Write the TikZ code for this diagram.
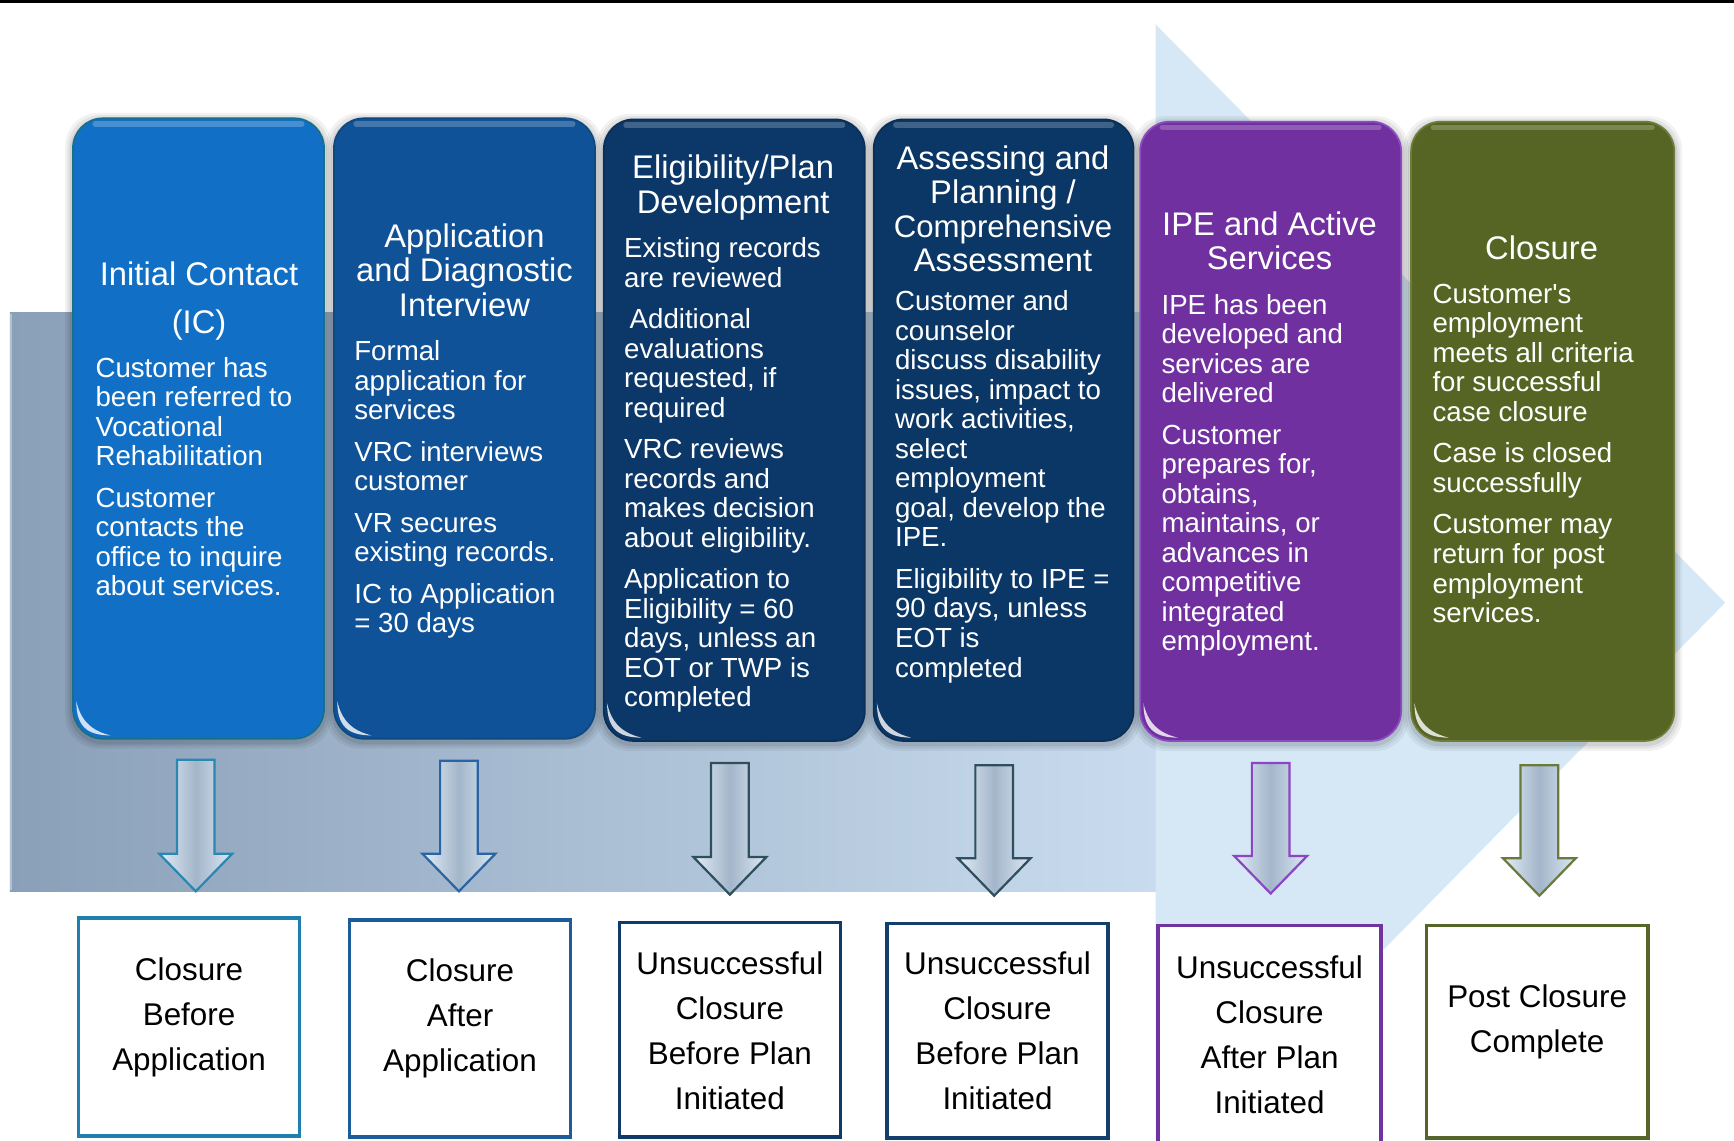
\documentclass[tikz,border=0pt]{standalone}
\usepackage{fontspec}
\setmainfont{Liberation Sans}[Ligatures=TeXOff]
\usetikzlibrary{fit,calc}
\definecolor{bgL}{HTML}{8AA0B8}
\definecolor{bgR}{HTML}{C9DCEF}
\definecolor{bgH}{HTML}{D6E8F6}
\definecolor{fA}{HTML}{1170C6}\definecolor{eA}{HTML}{17708A}
\definecolor{fB}{HTML}{0F5298}\definecolor{eB}{HTML}{0E4A80}
\definecolor{fC}{HTML}{0B3868}\definecolor{eC}{HTML}{0A3058}
\definecolor{fD}{HTML}{0B3766}\definecolor{eD}{HTML}{0A3058}
\definecolor{fE}{HTML}{7030A0}\definecolor{eE}{HTML}{8A4CC0}
\definecolor{fF}{HTML}{566523}\definecolor{eF}{HTML}{6E7E3A}
\definecolor{aA}{HTML}{2C86B2}\definecolor{aB}{HTML}{2A64A4}
\definecolor{aC}{HTML}{2F4F5F}\definecolor{aD}{HTML}{2F4F5F}
\definecolor{aE}{HTML}{8A46C4}\definecolor{aF}{HTML}{6A7A3A}
\definecolor{oA}{HTML}{1F7FAF}\definecolor{oB}{HTML}{1C5C9A}
\definecolor{oC}{HTML}{0F3B6A}\definecolor{oD}{HTML}{123F6D}
\definecolor{oE}{HTML}{7033A0}\definecolor{oF}{HTML}{56652A}
\definecolor{arL}{HTML}{E2ECF6}
\definecolor{arM}{HTML}{A3B6CA}
\definecolor{arR}{HTML}{DCE8F4}
\tikzset{
  topbox/.style={rounded corners=13.5pt, inner sep=0pt, line width=0.8pt},
  botbox/.style={inner sep=0pt, fill=white, line width=1.6pt},
  ttl/.style={text=white, font=\fontsize{14.8}{15.5}\selectfont, align=center, inner sep=0pt, anchor=north},
  bdy/.style={text=white, font=\fontsize{12.5}{13.35}\selectfont, align=left, inner sep=0pt, anchor=north west},
  otxt/.style={text=black, font=\fontsize{14.2}{20.35}\selectfont, align=center, inner sep=0pt, anchor=north},
  blk/.style={line width=1pt, left color=arL, right color=arR, middle color=arM}
}
% #1 name, #2 x1, #3 y1, #4 x2, #5 y2, #6 fill, #7 edge
\newcommand{\mytopbox}[7]{%
  \foreach \s/\o in {7/0.05,5/0.06,3/0.08}{%
    \fill[black, opacity=\o, rounded corners=15pt] (#2-\s,#3-\s+2) rectangle (#4+\s,#5+\s+2);}
  \node[topbox, fill=#6, draw=#7, fit={(#2,#3) (#4,#5)}] (#1) {};
  \draw[white, opacity=0.22, line width=2.4pt, line cap=round] (#2+20,#3+5) -- (#4-20,#3+5);
  \fill[white, opacity=0.8] (#2+3,#5-34) .. controls (#2+3,#5-12) and (#2+12,#5-3) .. (#2+34,#5-3)
      .. controls (#2+17,#5-7) and (#2+7,#5-16) .. cycle;
}
% #1 cx, #2 top, #3 tip, #4 colour
\newcommand{\blockarrow}[4]{%
  \path[blk, draw=#4] (#1-17,#2) -- (#1+17,#2) -- (#1+17,#3-34) -- (#1+33,#3-34) -- (#1,#3) -- (#1-33,#3-34) -- (#1-17,#3-34) -- cycle;
}
\begin{document}
\begin{tikzpicture}[x=0.5pt,y=-0.5pt]
\useasboundingbox (0,0) rectangle (1568,1031);
\clip (0,0) rectangle (1568,1031);
\fill[white] (0,0) rectangle (1568,1031);
\fill[black] (0,0) rectangle (1568,2.5);
% background arrow
\shade[left color=bgL, right color=bgR] (9,283) rectangle (1045,806);
\fill[bgH] (1045,22) -- (1560,545) -- (1045,1068) -- cycle;
\draw[white, opacity=0.35, line width=1pt] (10,284) -- (10,805);
% top boxes
\mytopbox{b1}{66}{107}{293}{668}{fA}{eA}
\mytopbox{b2}{302}{107}{538}{668}{fB}{eB}
\mytopbox{b3}{546}{108}{782}{670}{fC}{eC}
\mytopbox{b4}{790}{108}{1025}{670}{fD}{eD}
\mytopbox{b5}{1031}{110}{1267}{670}{fE}{eE}
\mytopbox{b6}{1276}{110}{1514}{670}{fF}{eF}
% titles
\node[ttl] (h1) at (180,236) {Initial Contact\\[6.5pt](IC)};
\node[ttl] (h2) at (420,202) {Application\\and Diagnostic\\Interview};
\node[ttl] (h3) at (663,140) {Eligibility/Plan\\Development};
\node[ttl] (h4) at (907,131) {Assessing and\\Planning /\\{\fontsize{14.1}{15.5}\selectfont Comprehensive}\\Assessment};
\node[ttl] (h5) at (1148,191) {IPE and Active\\Services};
\node[ttl] (h6) at (1394,213) {Closure};
% bodies
\node[bdy] (d1) at (86,322.5) {Customer has\\been referred to\\Vocational\\Rehabilitation\\[5.4pt]Customer\\contacts the\\office to inquire\\about services.};
\node[bdy] (d2) at (320,307.5) {Formal\\application for\\services\\[5.4pt]VRC interviews\\customer\\[5.4pt]VR secures\\existing records.\\[5.4pt]IC to Application\\= 30 days};
\node[bdy] (d3) at (564,214.5) {Existing records\\are reviewed\\[5.4pt]\hspace{2.5pt}Additional\\evaluations\\requested, if\\required\\[5.4pt]VRC reviews\\records and\\makes decision\\about eligibility.\\[5.4pt]Application to\\Eligibility = 60\\days, unless an\\EOT or TWP is\\completed};
\node[bdy] (d4) at (809,262.5) {Customer and\\counselor\\discuss disability\\issues, impact to\\work activities,\\select\\employment\\goal, develop the\\IPE.\\[5.4pt]Eligibility to IPE =\\90 days, unless\\EOT is\\completed};
\node[bdy] (d5) at (1050,265.5) {IPE has been\\developed and\\services are\\delivered\\[5.4pt]Customer\\prepares for,\\obtains,\\maintains, or\\advances in\\competitive\\integrated\\employment.};
\node[bdy] (d6) at (1295,256.5) {Customer's\\employment\\meets all criteria\\for successful\\case closure\\[5.4pt]Case is closed\\successfully\\[5.4pt]Customer may\\return for post\\employment\\services.};
% block arrows
\blockarrow{177}{687}{806}{aA}
\blockarrow{415}{688}{806}{aB}
\blockarrow{660}{690}{809}{aC}
\blockarrow{899}{692}{810}{aD}
\blockarrow{1149}{690}{808}{aE}
\blockarrow{1392}{692}{810}{aF}
% outcome boxes
\node[botbox, draw=oA, fit={(71,830) (271,1027)}] (o1) {};
\node[botbox, draw=oB, fit={(316,832) (516,1028)}] (o2) {};
\node[botbox, draw=oC, fit={(560,834) (760,1028)}] (o3) {};
\node[botbox, draw=oD, fit={(802,835) (1002,1029)}] (o4) {};
\node[botbox, draw=oE, fit={(1047,837) (1249,1045)}] (o5) {};
\node[botbox, draw=oF, fit={(1290,837) (1490,1029)}] (o6) {};
\node[otxt] (t1) at (171,865.5) {Closure\\Before\\Application};
\node[otxt] (t2) at (416,866.5) {Closure\\After\\Application};
\node[otxt] (t3) at (660,860.5) {Unsuccessful\\Closure\\Before Plan\\Initiated};
\node[otxt] (t4) at (902,860.5) {Unsuccessful\\Closure\\Before Plan\\Initiated};
\node[otxt] (t5) at (1148,863.5) {Unsuccessful\\Closure\\After Plan\\Initiated};
\node[otxt] (t6) at (1390,890.5) {Post Closure\\Complete};
\end{tikzpicture}
\end{document}
